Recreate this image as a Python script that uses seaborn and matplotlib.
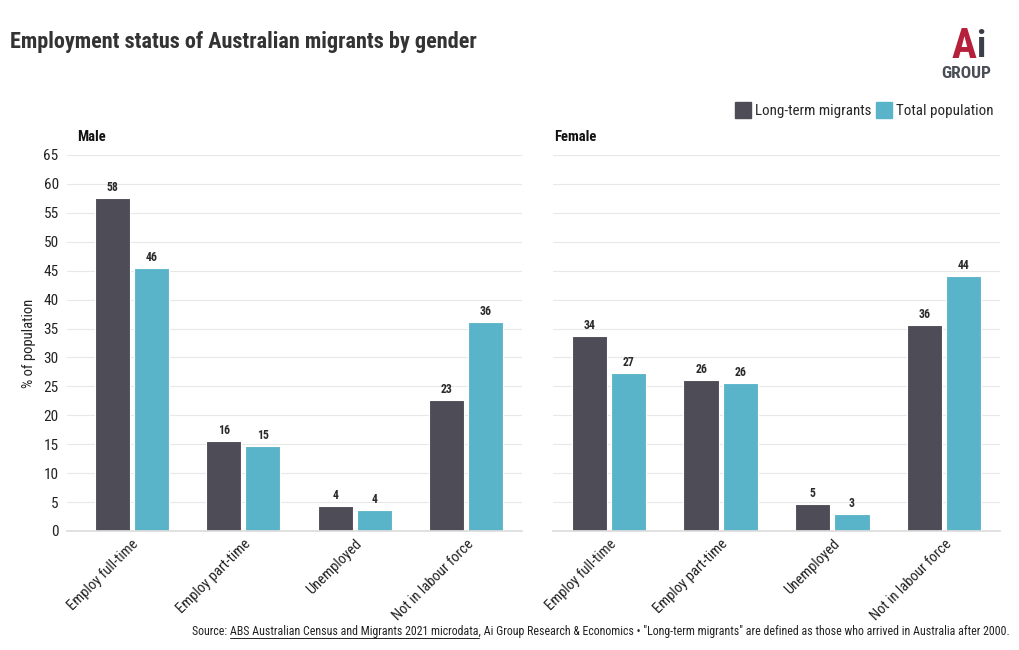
import numpy as np
import pandas as pd
import matplotlib
matplotlib.use("Agg")
import matplotlib.pyplot as plt
import seaborn as sns
from matplotlib.lines import Line2D

categories = ["Employ full-time", "Employ part-time", "Unemployed", "Not in labour force"]
series = ["Long-term migrants", "Total population"]
male_migrants = [57.6, 15.6, 4.3, 22.6]
male_total = [45.5, 14.7, 3.6, 36.1]
female_migrants = [33.7, 26.1, 4.6, 35.6]
female_total = [27.3, 25.6, 2.9, 44.1]
yticks = list(range(0, 70, 5))

colors = ["#4d4c57", "#5ab4c9"]

sns.set_theme(style="white")
plt.rcParams["font.family"] = ["Roboto Condensed", "Liberation Sans Narrow", "Roboto", "DejaVu Sans"]

W, H = 1020, 650
fig = plt.figure(figsize=(W / 100, H / 100), dpi=100)

def px_rect(x0, y0, x1, y1):
    return [x0 / W, 1 - y1 / H, (x1 - x0) / W, (y1 - y0) / H]

ax1 = fig.add_axes(px_rect(67, 155, 522, 531))
ax2 = fig.add_axes(px_rect(553, 155, 1000, 531))

def make_df(mig, tot):
    rows = []
    for c, m, t in zip(categories, mig, tot):
        rows.append({"cat": c, "series": series[0], "val": m})
        rows.append({"cat": c, "series": series[1], "val": t})
    return pd.DataFrame(rows)

for ax, mig, tot, xl in [(ax1, male_migrants, male_total, (-0.58, 3.5)),
                         (ax2, female_migrants, female_total, (-0.5, 3.5))]:
    df = make_df(mig, tot)
    sns.barplot(data=df, x="cat", y="val", hue="series", order=categories,
                hue_order=series, palette=colors, saturation=1, width=0.7, gap=0.1,
                edgecolor="white", linewidth=0.8, legend=False, ax=ax)
    for cont in ax.containers:
        ax.bar_label(cont, labels=[f"{v:.0f}" for v in cont.datavalues],
                     padding=3, fontsize=8.5, fontweight="bold", color="#2a2a2a")
    ax.set_ylim(0, 65)
    ax.set_xlim(*xl)
    ax.set_yticks(yticks)
    ax.yaxis.grid(True, color="#e8e8e8", linewidth=0.8)
    ax.set_axisbelow(True)
    for s in ["top", "right", "left"]:
        ax.spines[s].set_visible(False)
    ax.spines["bottom"].set_color("#dddddd")
    ax.set_xlabel("")
    ax.set_ylabel("")
    ax.tick_params(axis="x", length=0, pad=4, labelsize=10.5, colors="#222222")
    ax.tick_params(axis="y", length=0, pad=6, labelsize=11, colors="#222222")
    for lab in ax.get_xticklabels():
        lab.set_rotation(45)
        lab.set_ha("right")
        lab.set_rotation_mode("anchor")

ax2.tick_params(axis="y", labelleft=False)
ax1.set_ylabel("% of population", fontsize=10.5, color="#222222", labelpad=5)

fig.text(77 / W, 1 - 137 / H, "Male", fontsize=10.5, fontweight="bold", va="center", ha="left", color="#111111")
fig.text(554 / W, 1 - 137 / H, "Female", fontsize=10.5, fontweight="bold", va="center", ha="left", color="#111111")

fig.text(10 / W, 1 - 42 / H, "Employment status of Australian migrants by gender",
         fontsize=16, fontweight="bold", va="center", ha="left", color="#333333")

handles = [Line2D([0], [0], marker="s", linestyle="", markersize=12, markerfacecolor=c,
                  markeredgecolor=c) for c in colors]
fig.legend(handles, series, loc="center right", bbox_to_anchor=(1000 / W, 1 - 111 / H),
           ncol=2, frameon=False, fontsize=10.8, handletextpad=0.3, columnspacing=0.4,
           handlelength=1.0, borderaxespad=0)

# logo
fig.text(976 / W, 1 - 46 / H, "A", fontsize=30, fontweight="bold", color="#b5213a",
         ha="right", va="center")
fig.text(976 / W, 1 - 47 / H, "i", fontsize=26, fontweight="bold", color="#3a3f4a",
         ha="left", va="center")
fig.text(966 / W, 1 - 73 / H, "GROUP", fontsize=12.5, fontweight="bold", color="#4a4f57",
         ha="center", va="center")

# footnote
pre = "Source: "
link = "ABS Australian Census and Migrants 2021 microdata"
post = ", Ai Group Research & Economics \u2022 \"Long-term migrants\" are defined as those who arrived in Australia after 2000."
fs = 8.6
t_full = fig.text(1010 / W, 1 - 632 / H, pre + link + post, fontsize=fs, ha="right", va="center", color="#222222")
fig.canvas.draw()
r = fig.canvas.get_renderer()
bb = t_full.get_window_extent(r)
tmp1 = fig.text(0, 0, pre, fontsize=fs)
tmp2 = fig.text(0, 0, pre + link, fontsize=fs)
w1 = tmp1.get_window_extent(r).width
w2 = tmp2.get_window_extent(r).width
tmp1.remove(); tmp2.remove()
x0 = (bb.x0 + w1) / W
x1 = (bb.x0 + w2) / W
yline = (bb.y0 + 1) / H
fig.add_artist(Line2D([x0, x1], [yline, yline], color="#222222", linewidth=0.7, transform=fig.transFigure))

fig.savefig("out.png", dpi=100)
